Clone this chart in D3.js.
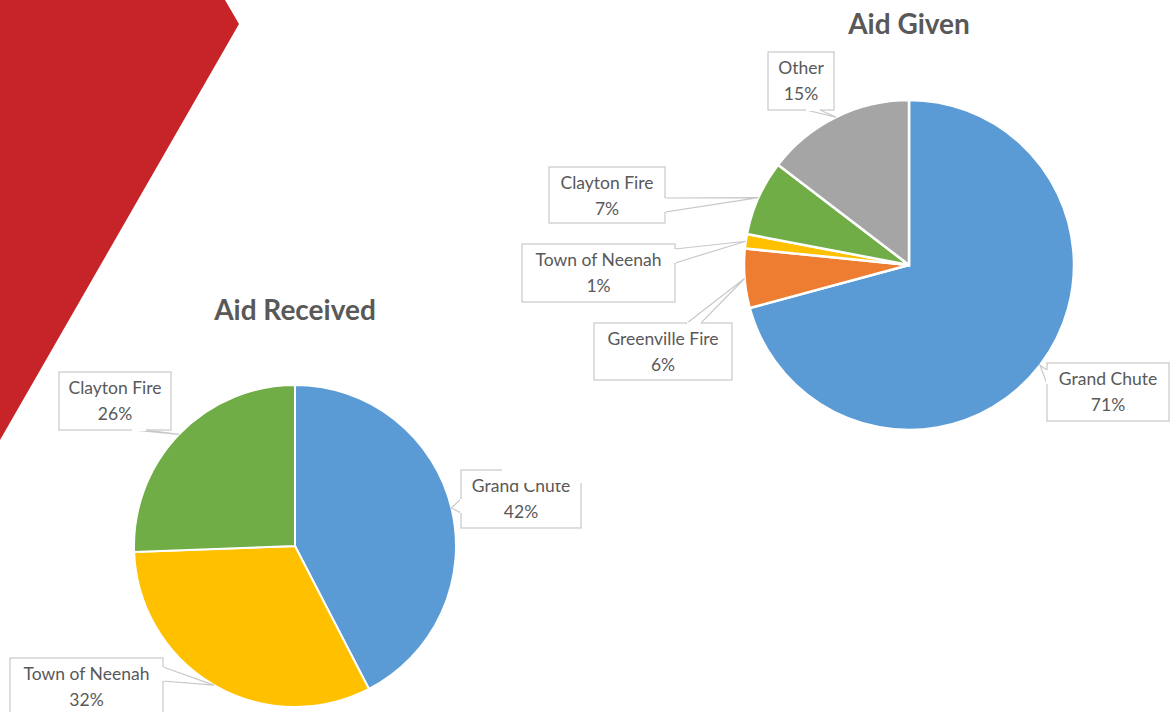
<!DOCTYPE html>
<html>
<head>
<meta charset="utf-8">
<script src="https://cdn.jsdelivr.net/npm/d3@7"></script>
<style>
  body { margin: 0; background: #fff; }
  svg text { font-family: Lato, "Open Sans", sans-serif; }
</style>
</head>
<body>
<div id="chart"></div>
<script>
// data
var receivedCats = ["Grand Chute", "Town of Neenah", "Clayton Fire"];
var receivedVals = [42.4, 32.0, 25.6];

var givenCats = ["Grand Chute", "Greenville Fire", "Town of Neenah", "Clayton Fire", "Other"];
var givenVals = [70.8, 5.8, 1.4, 7.4, 14.6];

var catColors = {
  "Grand Chute": "#5B9BD5",
  "Greenville Fire": "#ED7D31",
  "Town of Neenah": "#FFC000",
  "Clayton Fire": "#70AD47",
  "Other": "#A5A5A5"
};

var width = 1176, height = 712;

var svg = d3.select("#chart")
  .append("svg")
    .attr("width", width)
    .attr("height", height);

// red slide decoration
svg.append("path")
  .attr("d", "M0,0 L225,0 L239,24 L0,440 Z")
  .attr("fill", "#C62428");

// draws one pie with its callout labels
function drawPie(cfg) {
  var g = svg.append("g")
    .attr("transform", "translate(" + cfg.cx + "," + cfg.cy + ")");

  var total = d3.sum(cfg.vals);
  var pie = d3.pie().sort(null);
  var arcs = pie(cfg.vals);

  var arc = d3.arc().innerRadius(0).outerRadius(cfg.r);
  var edge = d3.arc().innerRadius(cfg.r).outerRadius(cfg.r);

  g.selectAll("path.slice")
    .data(arcs)
    .enter()
    .append("path")
      .attr("class", "slice")
      .attr("d", arc)
      .attr("fill", function(d, i) { return catColors[cfg.cats[i]]; })
      .attr("stroke", "#fff")
      .attr("stroke-width", cfg.stroke);

  svg.append("text")
    .attr("x", cfg.cx)
    .attr("y", cfg.titleY)
    .attr("text-anchor", "middle")
    .attr("font-size", 28)
    .attr("font-weight", "bold")
    .attr("fill", "#595959")
    .text(cfg.title);

  arcs.forEach(function(d, i) {
    var b = cfg.boxes[i];
    var c = edge.centroid(d);
    var tip = [cfg.cx + c[0], cfg.cy + c[1]];
    var hw = 7, p1, p2;
    if (b.side == "left" || b.side == "right") {
      var sx = b.side == "left" ? b.x : b.x + b.w;
      var by = b.y + b.off;
      p1 = [sx, by - hw]; p2 = [sx, by + hw];
    } else {
      var sy = b.side == "top" ? b.y : b.y + b.h;
      var bx = b.x + b.off;
      p1 = [bx - hw, sy]; p2 = [bx + hw, sy];
    }
    var lg = svg.append("g");
    lg.append("rect")
      .attr("x", b.x).attr("y", b.y)
      .attr("width", b.w).attr("height", b.h)
      .attr("fill", "#fff")
      .attr("stroke", "#C8C8C8")
      .attr("stroke-width", 1.2);
    lg.append("path")
      .attr("d", "M" + p1 + " L" + tip + " L" + p2 + " Z")
      .attr("fill", "#fff")
      .attr("stroke", "#C8C8C8")
      .attr("stroke-width", 1.2);
    // cover the wedge base so the callout reads as one shape
    lg.append("path")
      .attr("d", "M" + p1 + " L" + p2)
      .attr("stroke", "#fff")
      .attr("stroke-width", 2);
    lg.append("text")
      .attr("x", b.x + b.w / 2)
      .attr("y", b.y + 22)
      .attr("text-anchor", "middle")
      .attr("font-size", 17.5)
      .attr("fill", "#595959")
      .text(cfg.cats[i]);
    lg.append("text")
      .attr("x", b.x + b.w / 2)
      .attr("y", b.y + 48)
      .attr("text-anchor", "middle")
      .attr("font-size", 17.5)
      .attr("fill", "#595959")
      .text(Math.round(d.value / total * 100) + "%");
  });
}

drawPie({
  title: "Aid Received", titleY: 320,
  cx: 295, cy: 546, r: 161, stroke: 2,
  cats: receivedCats, vals: receivedVals,
  boxes: [
    {x: 461, y: 470, w: 120, h: 58, side: "left", off: 36},
    {x: 10, y: 658, w: 153, h: 62, side: "right", off: 16},
    {x: 59, y: 372, w: 112, h: 58, side: "bottom", off: 80}
  ]
});

// the second chart's white plot area sits over the first one
svg.append("rect")
  .attr("x", 502).attr("y", 0)
  .attr("width", width - 502).attr("height", 483)
  .attr("fill", "#fff");

drawPie({
  title: "Aid Given", titleY: 34,
  cx: 909, cy: 265, r: 165, stroke: 2.5,
  cats: givenCats, vals: givenVals,
  boxes: [
    {x: 1047, y: 363, w: 122, h: 58, side: "left", off: 14},
    {x: 594, y: 323, w: 138, h: 57, side: "top", off: 100},
    {x: 522, y: 244, w: 153, h: 58, side: "right", off: 12},
    {x: 549, y: 167, w: 116, h: 56, side: "right", off: 38},
    {x: 768, y: 52, w: 66, h: 58, side: "bottom", off: 45}
  ]
});
</script>
</body>
</html>
